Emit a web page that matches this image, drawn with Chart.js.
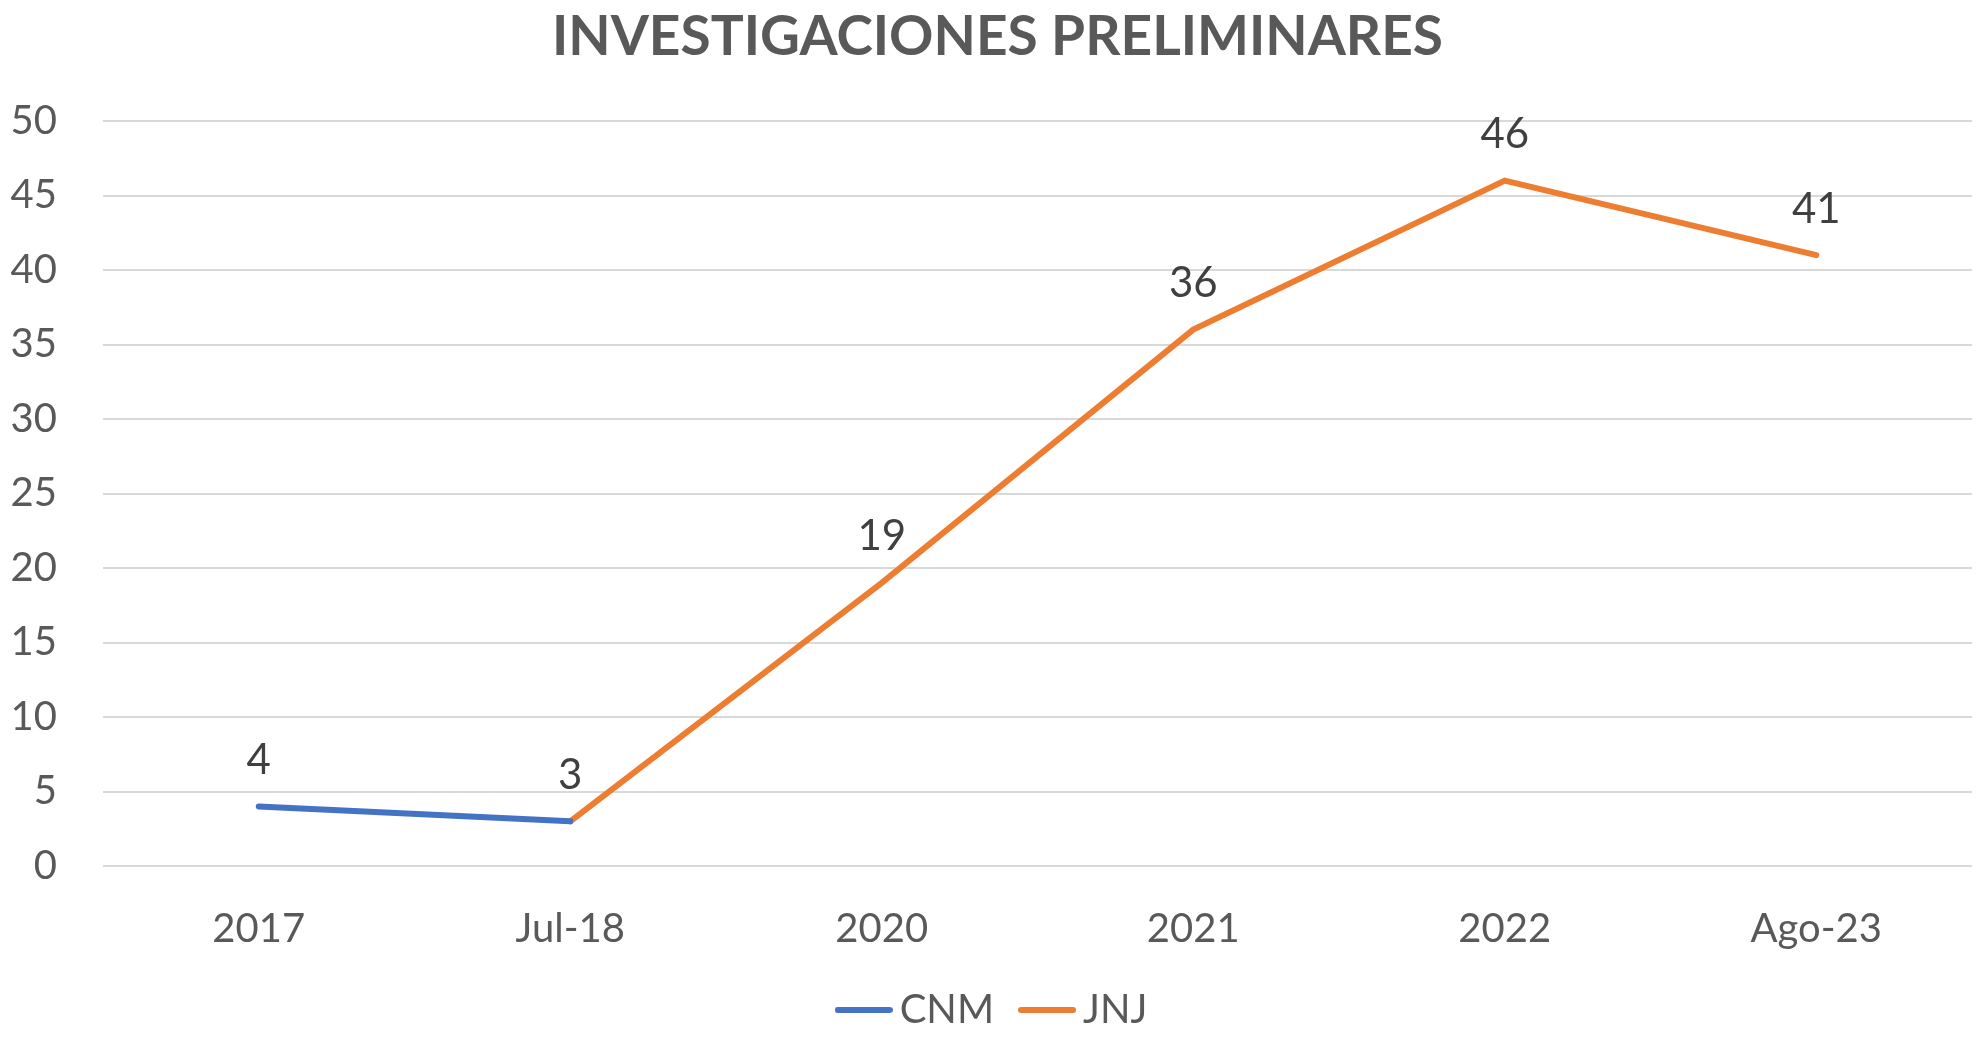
<!DOCTYPE html>
<html>
<head>
<meta charset="utf-8">
<script src="https://cdn.jsdelivr.net/npm/chart.js@4"></script>
<style>
  html, body { margin: 0; padding: 0; background: #fff; }
  #wrap { width: 1979px; height: 1037px; }
</style>
</head>
<body>
<div id="wrap"><canvas id="c" width="1979" height="1037"></canvas></div>
<script>
const categories = ['2017', 'Jul-18', '2020', '2021', '2022', 'Ago-23'];
const cnmValues = [4, 3, null, null, null, null];
const jnjValues = [null, 3, 19, 36, 46, 41];
const yTicks = [0, 5, 10, 15, 20, 25, 30, 35, 40, 45, 50];
const chartTitle = 'INVESTIGACIONES PRELIMINARES';

const FONT = 'Lato, "Open Sans", sans-serif';

function legendSwatch(color) {
  const cv = document.createElement('canvas');
  cv.width = 58; cv.height = 8;
  const g = cv.getContext('2d');
  g.strokeStyle = color;
  g.lineWidth = 6;
  g.lineCap = 'round';
  g.beginPath();
  g.moveTo(3, 4);
  g.lineTo(55, 4);
  g.stroke();
  return cv;
}

const dataLabels = {
  id: 'dataLabels',
  afterDatasetsDraw(chart) {
    const ctx = chart.ctx;
    const drawn = new Set();
    ctx.save();
    ctx.font = '42px ' + FONT;
    ctx.fillStyle = '#404040';
    ctx.textAlign = 'center';
    ctx.textBaseline = 'middle';
    chart.data.datasets.forEach((ds, i) => {
      const meta = chart.getDatasetMeta(i);
      meta.data.forEach((el, j) => {
        const v = ds.data[j];
        if (v === null || v === undefined) return;
        const key = j + ':' + v;
        if (drawn.has(key)) return;
        drawn.add(key);
        ctx.fillText(String(v), el.x, el.y - 46);
      });
    });
    ctx.restore();
  }
};

new Chart(document.getElementById('c'), {
  type: 'line',
  data: {
    labels: categories,
    datasets: [
      {
        label: 'CNM',
        data: cnmValues,
        borderColor: '#4472C4',
        backgroundColor: '#4472C4',
        borderWidth: 6,
        borderCapStyle: 'round',
        borderJoinStyle: 'miter',
        pointRadius: 0,
        pointHoverRadius: 0,
        pointStyle: legendSwatch('#4472C4'),
        tension: 0,
        spanGaps: false
      },
      {
        label: 'JNJ',
        data: jnjValues,
        borderColor: '#ED7D31',
        backgroundColor: '#ED7D31',
        borderWidth: 6,
        borderCapStyle: 'round',
        borderJoinStyle: 'miter',
        pointRadius: 0,
        pointHoverRadius: 0,
        pointStyle: legendSwatch('#ED7D31'),
        tension: 0,
        spanGaps: false
      }
    ]
  },
  options: {
    responsive: false,
    animation: false,
    devicePixelRatio: 1,
    layout: { padding: { left: 0, right: -16, top: 0, bottom: -3 } },
    plugins: {
      title: {
        display: true,
        text: chartTitle,
        color: '#595959',
        font: { family: FONT, size: 55, weight: 'bold', lineHeight: 1.2 },
        padding: { top: 4, bottom: 51 }
      },
      legend: {
        display: true,
        position: 'bottom',
        labels: {
          color: '#595959',
          font: { family: FONT, size: 40 },
          usePointStyle: true,
          pointStyleWidth: 32,
          boxHeight: 40,
          padding: 37
        }
      },
      tooltip: { enabled: false }
    },
    scales: {
      x: {
        offset: true,
        grid: { display: false, drawTicks: false },
        border: { display: false },
        afterFit(axis) { axis.height = 87; },
        ticks: {
          color: '#595959',
          font: { family: FONT, size: 40 },
          padding: 39,
          maxRotation: 0,
          autoSkip: false
        }
      },
      y: {
        min: 0,
        max: 50,
        afterBuildTicks(axis) { axis.ticks = yTicks.map(v => ({ value: v })); },
        afterFit(axis) { axis.width = 103; },
        grid: { color: '#D9D9D9', lineWidth: 2, drawTicks: false },
        border: { display: false },
        ticks: {
          color: '#595959',
          font: { family: FONT, size: 40 },
          padding: 46
        }
      },
      ySpacer: {
        type: 'linear',
        position: 'right',
        display: true,
        min: 0,
        max: 50,
        afterFit(axis) { axis.width = 23; },
        grid: { display: false, drawTicks: false },
        border: { display: false },
        ticks: { display: false }
      }
    }
  },
  plugins: [dataLabels]
});
</script>
</body>
</html>
